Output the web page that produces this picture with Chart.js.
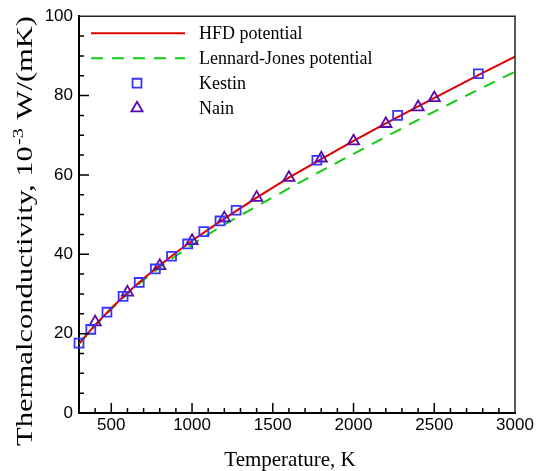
<!DOCTYPE html>
<html>
<head>
<meta charset="utf-8">
<script src="https://cdn.jsdelivr.net/npm/chart.js@4.4.1/dist/chart.umd.min.js"></script>
<style>
  html, body { margin: 0; padding: 0; background: #fff; }
</style>
</head>
<body>
<canvas id="tcChart" width="543" height="471"></canvas>
<script>
// model curves (temperature, K -> thermal conductivity, 1e-3 W/(mK))
const curveT = [300, 400, 500, 600, 700, 800, 900, 1000, 1100, 1200, 1400, 1600, 1800, 2000, 2200, 2400, 2600, 2800, 3000];
const hfdK   = [17.5, 22.2, 26.4, 30.3, 33.9, 37.2, 40.4, 43.4, 46.2, 49.0, 54.3, 59.3, 64.0, 68.6, 73.0, 77.3, 81.5, 85.7, 89.8];
const ljK    = [17.4, 22.0, 26.2, 30.0, 33.5, 36.7, 39.6, 42.4, 45.0, 47.5, 52.1, 56.6, 61.0, 65.3, 69.6, 73.9, 78.0, 82.0, 86.0];

// experimental data
const kestinT = [300, 373, 473, 573, 673, 773, 873, 973, 1073, 1173, 1273, 1773, 2273, 2773];
const kestinK = [17.6, 21.1, 25.4, 29.4, 32.9, 36.3, 39.5, 42.6, 45.7, 48.4, 51.1, 63.7, 75.0, 85.5];
const nainT = [400, 600, 800, 1000, 1200, 1400, 1600, 1800, 2000, 2200, 2400, 2500];
const nainK = [22.9, 30.4, 37.1, 43.4, 49.1, 54.3, 59.3, 64.2, 68.5, 72.9, 77.1, 79.4];

// axis ticks
const xTickLabels = [500, 1000, 1500, 2000, 2500, 3000];
const yTickLabels = [0, 20, 40, 60, 80, 100];

const toPoints = (xs, ys) => xs.map((x, i) => ({ x: x, y: ys[i] }));

// inward ticks, frame, legend and axis titles
const decorPlugin = {
  id: 'decor',
  afterDraw(chart) {
    const ctx = chart.ctx;
    const area = chart.chartArea;
    const xs = chart.scales.x, ys = chart.scales.y;
    ctx.save();

    // top & right frame
    ctx.strokeStyle = '#222';
    ctx.lineWidth = 1.5;
    ctx.beginPath();
    ctx.moveTo(area.left, area.top);
    ctx.lineTo(area.right, area.top);
    ctx.lineTo(area.right, area.bottom);
    ctx.stroke();

    // ticks pointing inside
    ctx.strokeStyle = '#000';
    ctx.lineWidth = 1.5;
    ctx.beginPath();
    for (let v = 400; v < 3000; v += 100) {
      const px = xs.getPixelForValue(v);
      const len = v % 500 === 0 ? 10 : 5;
      ctx.moveTo(px, area.bottom);
      ctx.lineTo(px, area.bottom - len);
    }
    for (let v = 5; v < 100; v += 5) {
      const py = ys.getPixelForValue(v);
      const len = v % 20 === 0 ? 10 : 5;
      ctx.moveTo(area.left, py);
      ctx.lineTo(area.left + len, py);
    }
    ctx.stroke();

    // legend
    chart.data.datasets.forEach((ds, i) => {
      const y = area.top + 17 + i * 25;
      if (ds.showLine) {
        ctx.strokeStyle = ds.borderColor;
        ctx.lineWidth = ds.borderWidth;
        ctx.setLineDash(ds.borderDash || []);
        ctx.beginPath();
        ctx.moveTo(area.left + 12, y);
        ctx.lineTo(area.left + 106, y);
        ctx.stroke();
        ctx.setLineDash([]);
      } else {
        ctx.strokeStyle = ds.borderColor;
        ctx.fillStyle = 'rgba(0,0,0,0)';
        ctx.lineWidth = ds.borderWidth;
        Chart.helpers.drawPoint(ctx, {
          pointStyle: ds.pointStyle, radius: ds.pointRadius, rotation: 0, borderWidth: ds.borderWidth
        }, area.left + 58, y);
      }
      ctx.fillStyle = '#000';
      ctx.font = '18px "Liberation Serif"';
      ctx.textAlign = 'left';
      ctx.textBaseline = 'middle';
      ctx.fillText(ds.label, area.left + 120, y + 1);
    });

    // x axis title
    ctx.font = '21px "Liberation Serif"';
    ctx.textAlign = 'center';
    ctx.textBaseline = 'alphabetic';
    ctx.fillText('Temperature, K', 290, 466);

    // y axis title with superscript, stretched like the original
    const main1 = 'Thermalconductivity, 10';
    const sup = '-3';
    const main2 = ' W/(mK)';
    const bigFont = '23px "Liberation Serif"';
    const supFont = '15px "Liberation Serif"';
    ctx.font = bigFont;
    const w1 = ctx.measureText(main1).width;
    const w2 = ctx.measureText(main2).width;
    ctx.font = supFont;
    const ws = ctx.measureText(sup).width + 2;
    const total = w1 + ws + w2;
    const stretch = 430 / total;
    ctx.translate(32, 231);
    ctx.rotate(-Math.PI / 2);
    ctx.scale(stretch, 1);
    ctx.textAlign = 'left';
    let x0 = -total / 2;
    ctx.font = bigFont;
    ctx.fillText(main1, x0, 0);
    x0 += w1 + 1;
    ctx.font = supFont;
    ctx.fillText(sup, x0, -9);
    x0 += ws - 1;
    ctx.font = bigFont;
    ctx.fillText(main2, x0, 0);

    ctx.restore();
  }
};

new Chart(document.getElementById('tcChart'), {
  type: 'scatter',
  data: {
    datasets: [{
      label: 'HFD potential',
      data: toPoints(curveT, hfdK),
      showLine: true,
      borderColor: '#dd0000',
      borderWidth: 2,
      pointRadius: 0,
      order: 1
    }, {
      label: 'Lennard-Jones potential',
      data: toPoints(curveT, ljK),
      showLine: true,
      borderColor: '#11cc11',
      borderWidth: 2,
      borderDash: [12, 9],
      pointRadius: 0,
      order: 1
    }, {
      label: 'Kestin',
      data: toPoints(kestinT, kestinK),
      showLine: false,
      pointStyle: 'rect',
      pointRadius: 6.3,
      borderColor: '#3535ff',
      backgroundColor: 'rgba(0,0,0,0)',
      borderWidth: 1.8,
      clip: false,
      order: 0
    }, {
      label: 'Nain',
      data: toPoints(nainT, nainK),
      showLine: false,
      pointStyle: 'triangle',
      pointRadius: 6.5,
      borderColor: '#5a0aaa',
      backgroundColor: 'rgba(0,0,0,0)',
      borderWidth: 1.8,
      clip: false,
      order: 0
    }]
  },
  options: {
    responsive: false,
    animation: false,
    layout: { padding: { top: 15, right: 28, left: 0, bottom: 0 } },
    plugins: {
      legend: { display: false },
      tooltip: { enabled: false }
    },
    scales: {
      x: {
        type: 'linear',
        min: 300,
        max: 3000,
        afterBuildTicks: s => { s.ticks = xTickLabels.map(v => ({ value: v })); },
        afterFit: s => { s.height = 58; },
        grid: { display: false, drawTicks: false },
        border: { display: true, color: '#000', width: 2 },
        ticks: {
          color: '#000',
          font: { family: 'Liberation Sans', size: 17 },
          padding: 2,
          maxRotation: 0,
          autoSkip: false,
          callback: v => String(v)
        }
      },
      y: {
        type: 'linear',
        min: 0,
        max: 100,
        afterBuildTicks: s => { s.ticks = yTickLabels.map(v => ({ value: v })); },
        afterFit: s => { s.width = 79; },
        grid: { display: false, drawTicks: false },
        border: { display: true, color: '#000', width: 2 },
        ticks: {
          color: '#000',
          font: { family: 'Liberation Sans', size: 17 },
          padding: 6,
          callback: v => String(v)
        }
      }
    }
  },
  plugins: [decorPlugin]
});
</script>
</body>
</html>
